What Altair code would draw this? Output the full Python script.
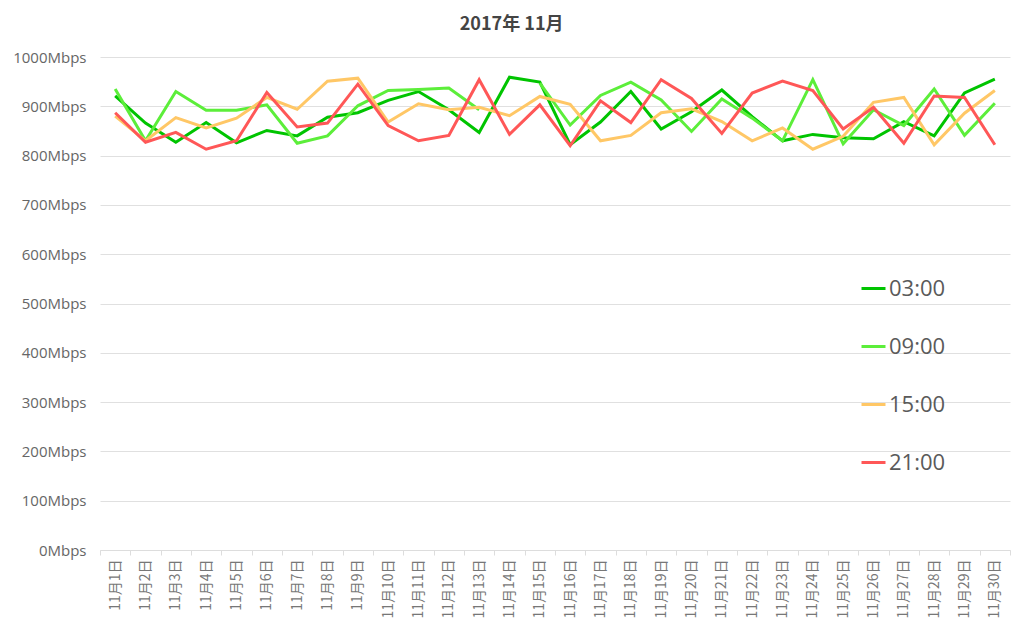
import altair as alt
import pandas as pd

days = [f"11月{d}日" for d in range(1, 31)]
series = ["03:00", "09:00", "15:00", "21:00"]
colors = ["#00c400", "#5cee3a", "#ffc766", "#ff5757"]

s03 = [921, 866, 827, 867, 826, 851, 840, 878, 887, 912, 930, 893, 847, 959, 949,
       822, 868, 930, 854, 889, 933, 879, 830, 843, 836, 834, 869, 840, 927, 955]
s09 = [935, 830, 930, 892, 892, 903, 825, 840, 901, 932, 934, 937, 893, None, 947,
       862, 922, 949, 913, 849, 915, 876, 830, 954, 824, 893, 861, 935, 841, 906]
s15 = [880, 830, 877, 856, 876, 918, 894, 951, 957, 868, 905, 893, 898, 881, 920,
       904, 830, 841, 887, 895, 869, 830, 856, 813, 839, 908, 918, 822, 886, 932]
s21 = [887, 827, 847, 813, 830, 928, 858, 866, 945, 861, 830, 841, 954, 843, 903,
       820, 911, 867, 954, 916, 845, 927, 951, 932, 854, 898, 825, 921, 918, 822]

rows = []
for name, vals in zip(series, [s03, s09, s15, s21]):
    seg = 0
    for day, v in zip(days, vals):
        if v is None:
            seg += 1
            continue
        rows.append({"day": day, "series": name, "value": v, "seg": f"{name}-{seg}"})
df = pd.DataFrame(rows)

label_font = "Open Sans"

chart = alt.Chart(df).mark_line(strokeWidth=3).encode(
    x=alt.X(
        "day:O",
        sort=days,
        bandPosition=0.5,
        scale=alt.Scale(type="band", domain=days, paddingInner=0, paddingOuter=0),
        axis=alt.Axis(
            title=None,
            labelAngle=-90,
            tickBand="extent",
            labelFont="Noto Sans CJK JP",
            labelFontSize=14,
            labelColor="#777",
            labelPadding=4,
            tickColor="#ddd",
            tickSize=5,
            domainColor="#ddd",
            grid=False,
        ),
    ),
    y=alt.Y(
        "value:Q",
        scale=alt.Scale(domain=[0, 1000]),
        axis=alt.Axis(
            title=None,
            values=list(range(0, 1001, 100)),
            labelExpr="datum.value + 'Mbps'",
            labelFont=label_font,
            labelFontSize=15,
            labelColor="#666",
            ticks=False,
            domain=False,
            labelPadding=14,
            gridColor="#e0e0e0",
        ),
    ),
    color=alt.Color(
        "series:N",
        scale=alt.Scale(domain=series, range=colors),
        legend=alt.Legend(
            title=None,
            orient="none",
            legendX=760,
            legendY=218,
            direction="vertical",
            symbolType="stroke",
            symbolSize=576,
            symbolStrokeWidth=3,
            labelFont=label_font,
            labelFontSize=22,
            labelColor="#5a5a5a",
            rowPadding=33,
            labelOffset=2,
            padding=0,
        ),
    ),
    detail="seg:N",
).properties(
    width=910,
    height=493,
    title=alt.Title(
        "2017年 11月",
        font="Noto Sans CJK JP",
        fontSize=18,
        fontWeight="bold",
        color="#444",
        anchor="middle",
        frame="bounds",
        offset=16,
    ),
    autosize=alt.AutoSizeParams(type="none"),
    padding={"left": 92, "top": 49, "right": 6, "bottom": 80},
).configure_view(stroke=None)

chart.save("out.html", embed_options={"renderer": "svg", "actions": False})
